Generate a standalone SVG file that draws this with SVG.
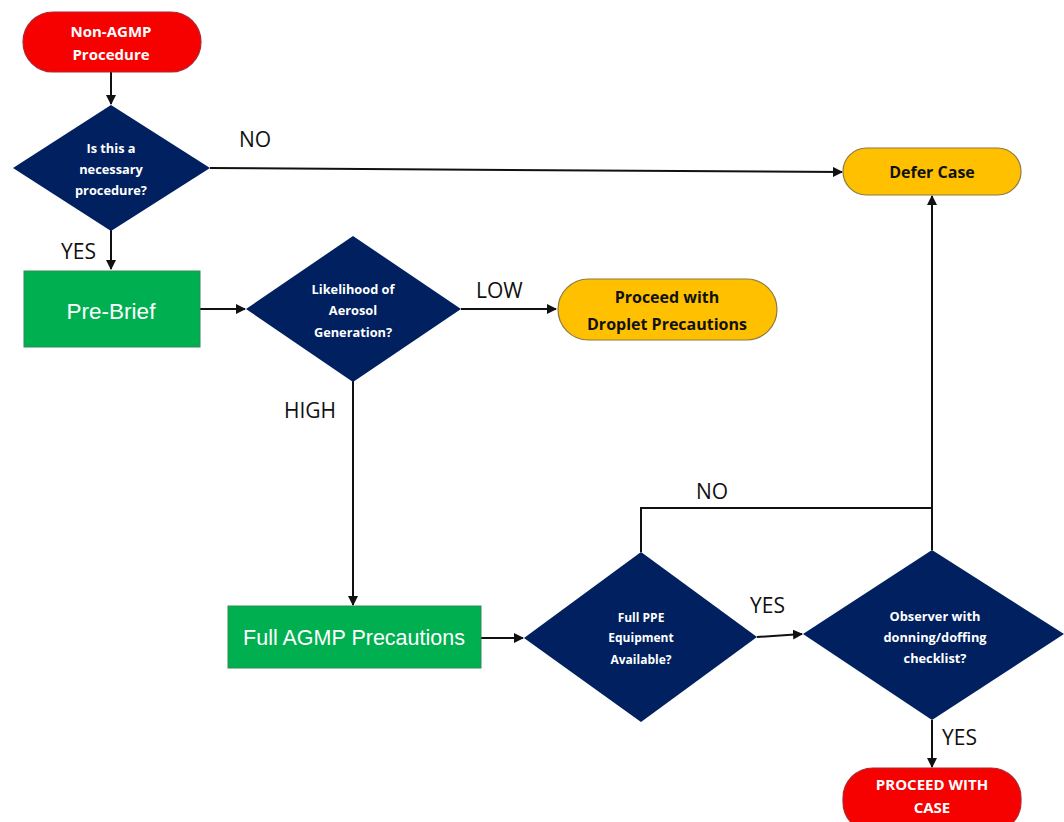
<svg xmlns="http://www.w3.org/2000/svg" width="1064" height="822" viewBox="0 0 1064 822">
<style>
.red{fill:#f60000;stroke:#b0262e;stroke-width:1.2}
.yel{fill:#ffc000;stroke:#8c7a40;stroke-width:1.2}
.grn{fill:#00b050;stroke:#2e8b57;stroke-width:1}
.dia{fill:#002060}
.tw{font-family:"Open Sans","Liberation Sans",sans-serif;font-weight:bold;fill:#fff;text-anchor:middle}
.tb{font-family:"Open Sans","Liberation Sans",sans-serif;font-weight:bold;fill:#111;text-anchor:middle}
.tg{font-family:"Liberation Sans",Arial,sans-serif;fill:#fff;text-anchor:middle}
.lbl{font-family:"Open Sans","Liberation Sans",sans-serif;fill:#111;font-size:21px}
.c{stroke:#111;stroke-width:2;fill:none}
</style>
<defs>
<marker id="ah" viewBox="0 0 10 10" refX="9" refY="5" markerWidth="5" markerHeight="5" orient="auto">
<path d="M0,0 L10,5 L0,10 z" fill="#111"/>
</marker>
</defs>
<rect width="1064" height="822" fill="#fff"/>
<g id="connectors">
<path class="c" d="M111,72 L111,104" marker-end="url(#ah)"/>
<path class="c" d="M210,168 L842,172" marker-end="url(#ah)"/>
<path class="c" d="M111,230 L111,269" marker-end="url(#ah)"/>
<path class="c" d="M200,309 L245,309" marker-end="url(#ah)"/>
<path class="c" d="M461,309 L556,309" marker-end="url(#ah)"/>
<path class="c" d="M353,381 L353,605" marker-end="url(#ah)"/>
<path class="c" d="M481,638 L523,638" marker-end="url(#ah)"/>
<path class="c" d="M757,637 L802,634" marker-end="url(#ah)"/>
<path class="c" d="M641,552 L641,508 L932,508"/>
<path class="c" d="M932,550 L932,196" marker-end="url(#ah)"/>
<path class="c" d="M932,720 L932,767" marker-end="url(#ah)"/>
<text class="lbl" x="239" y="147">NO</text>
<text class="lbl" x="61" y="259">YES</text>
<text class="lbl" x="476" y="298">LOW</text>
<text class="lbl" x="284" y="418">HIGH</text>
<text class="lbl" x="696" y="499">NO</text>
<text class="lbl" x="750" y="613">YES</text>
<text class="lbl" x="942" y="745">YES</text>
</g>
<g id="start">
<rect class="red" x="23" y="12" width="178" height="60" rx="30"/>
<text class="tw" font-size="15" x="111" y="37">Non-AGMP</text>
<text class="tw" font-size="15" x="111" y="60">Procedure</text>
</g>
<g id="necessary">
<polygon class="dia" points="111,105 210,168 111,231 13,168"/>
<text class="tw" font-size="12.8" x="111" y="153">Is this a</text>
<text class="tw" font-size="12.8" x="111" y="174">necessary</text>
<text class="tw" font-size="12.8" x="111" y="195">procedure?</text>
</g>
<g id="defer">
<rect class="yel" x="843" y="148" width="178" height="47" rx="23.5"/>
<text class="tb" font-size="16" x="932" y="178">Defer Case</text>
</g>
<g id="prebrief">
<rect class="grn" x="24" y="271" width="176" height="76"/>
<text class="tg" font-size="22.5" x="111" y="319">Pre-Brief</text>
</g>
<g id="likelihood">
<polygon class="dia" points="353,236 461,309 353,382 246,309"/>
<text class="tw" font-size="12.8" x="353" y="294">Likelihood of</text>
<text class="tw" font-size="12.8" x="353" y="315">Aerosol</text>
<text class="tw" font-size="12.8" x="353" y="337">Generation?</text>
</g>
<g id="droplet">
<rect class="yel" x="558" y="279" width="219" height="61" rx="30.5"/>
<text class="tb" font-size="16" x="667" y="303">Proceed with</text>
<text class="tb" font-size="16" x="667" y="330">Droplet Precautions</text>
</g>
<g id="fullagmp">
<rect class="grn" x="228" y="606" width="253" height="62"/>
<text class="tg" font-size="21.5" x="354" y="645">Full AGMP Precautions</text>
</g>
<g id="ppe">
<polygon class="dia" points="641,552 757,637 641,722 524,638"/>
<text class="tw" font-size="12" x="641" y="622">Full PPE</text>
<text class="tw" font-size="12" x="641" y="642">Equipment</text>
<text class="tw" font-size="12" x="641" y="664">Available?</text>
</g>
<g id="observer">
<polygon class="dia" points="932,550 1064,634 932,720 803,634"/>
<text class="tw" font-size="12.8" x="935" y="621">Observer with</text>
<text class="tw" font-size="12.8" x="935" y="642">donning/doffing</text>
<text class="tw" font-size="12.8" x="935" y="663">checklist?</text>
</g>
<g id="proceed">
<rect class="red" x="843" y="768" width="178" height="64" rx="30"/>
<text class="tw" font-size="15" x="932" y="790">PROCEED WITH</text>
<text class="tw" font-size="15" x="932" y="813">CASE</text>
</g>
</svg>
